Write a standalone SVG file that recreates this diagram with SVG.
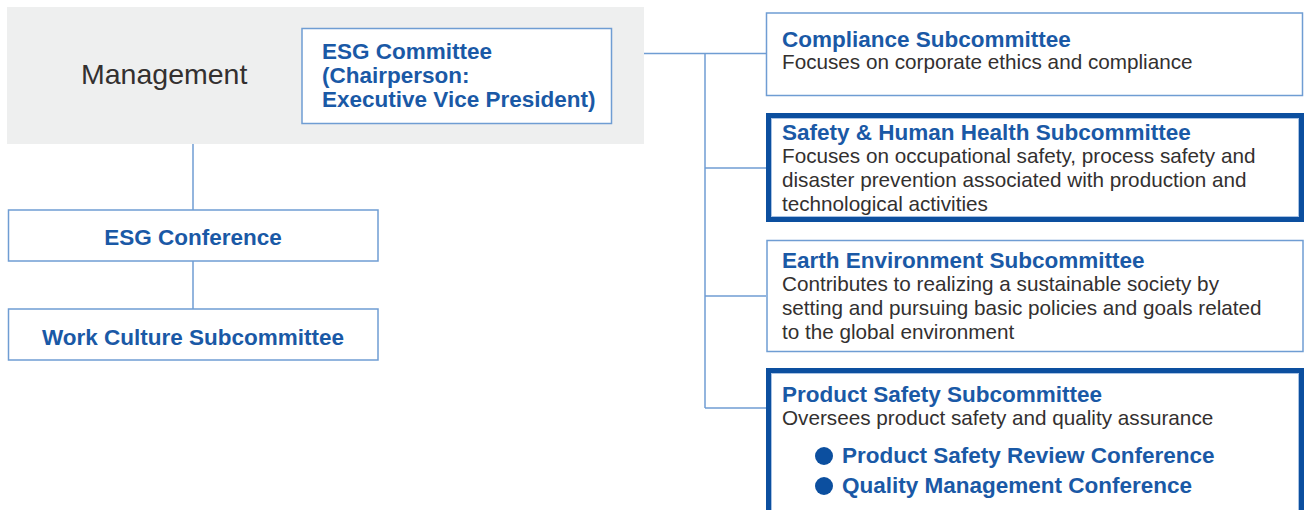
<svg xmlns="http://www.w3.org/2000/svg" width="1304" height="510" viewBox="0 0 1304 510">
  <style>
    .thin { fill: #ffffff; stroke: #6f9dd3; stroke-width: 1.5; }
    .thick { fill: #ffffff; stroke: #0c4f9f; stroke-width: 5; }
    .inner { fill: none; stroke: #a8c2e4; stroke-width: 1; }
    .title { font-family: "Liberation Sans", Arial, sans-serif; font-weight: bold; font-size: 22.5px; fill: #1a59a6; }
    .desc { font-family: "Liberation Sans", Arial, sans-serif; font-size: 20.7px; fill: #33302f; }
    .conn { stroke: #6f9dd3; stroke-width: 1.5; fill: none; }
    .bullet { fill: #0c4f9f; }
  </style>

  <g id="connectors">
    <path class="conn" d="M612,53.5 H766"/>
    <path class="conn" d="M705,53.5 V408"/>
    <path class="conn" d="M705,168 H766"/>
    <path class="conn" d="M705,296 H766"/>
    <path class="conn" d="M705,408 H766"/>
    <path class="conn" d="M193,144 V210"/>
    <path class="conn" d="M193,261 V309"/>
  </g>

  <g id="management">
    <rect x="7" y="7" width="637" height="137" fill="#eeefef"/>
    <text x="81" y="84" font-family="Liberation Sans, Arial, sans-serif" font-size="28.5" fill="#33302f">Management</text>
  </g>

  <g id="esg-committee">
    <rect class="thin" x="302" y="28.5" width="309.5" height="95"/>
    <text class="title" x="322" y="59">ESG Committee</text>
    <text class="title" x="322" y="83">(Chairperson:</text>
    <text class="title" x="322" y="107">Executive Vice President)</text>
  </g>

  <g id="esg-conference">
    <rect class="thin" x="8.5" y="210" width="369.5" height="51"/>
    <text class="title" x="193" y="245" text-anchor="middle">ESG Conference</text>
  </g>

  <g id="work-culture">
    <rect class="thin" x="8.5" y="309" width="369.5" height="51"/>
    <text class="title" x="193" y="345" text-anchor="middle">Work Culture Subcommittee</text>
  </g>

  <g id="compliance">
    <rect class="thin" x="766.5" y="13" width="536" height="82.5"/>
    <text class="title" x="782" y="47">Compliance Subcommittee</text>
    <text class="desc" x="782" y="69">Focuses on corporate ethics and compliance</text>
  </g>

  <g id="safety-health">
    <rect class="thick" x="768.5" y="115.5" width="533" height="104"/>
    <rect class="inner" x="771.5" y="118.5" width="527" height="98"/>
    <text class="title" x="782" y="140">Safety &amp; Human Health Subcommittee</text>
    <text class="desc" x="782" y="163">Focuses on occupational safety, process safety and</text>
    <text class="desc" x="782" y="187">disaster prevention associated with production and</text>
    <text class="desc" x="782" y="211">technological activities</text>
  </g>

  <g id="earth-environment">
    <rect class="thin" x="767" y="240.5" width="536" height="111"/>
    <text class="title" x="782" y="268">Earth Environment Subcommittee</text>
    <text class="desc" x="782" y="291">Contributes to realizing a sustainable society by</text>
    <text class="desc" x="782" y="315">setting and pursuing basic policies and goals related</text>
    <text class="desc" x="782" y="339">to the global environment</text>
  </g>

  <g id="product-safety">
    <rect class="thick" x="768.5" y="370.5" width="533" height="160"/>
    <rect class="inner" x="771.5" y="373.5" width="527" height="160"/>
    <text class="title" x="782" y="402">Product Safety Subcommittee</text>
    <text class="desc" x="782" y="425">Oversees product safety and quality assurance</text>
    <circle class="bullet" cx="824" cy="456" r="9"/>
    <text class="title" x="842" y="463">Product Safety Review Conference</text>
    <circle class="bullet" cx="824" cy="486" r="9"/>
    <text class="title" x="842" y="493">Quality Management Conference</text>
  </g>
</svg>
